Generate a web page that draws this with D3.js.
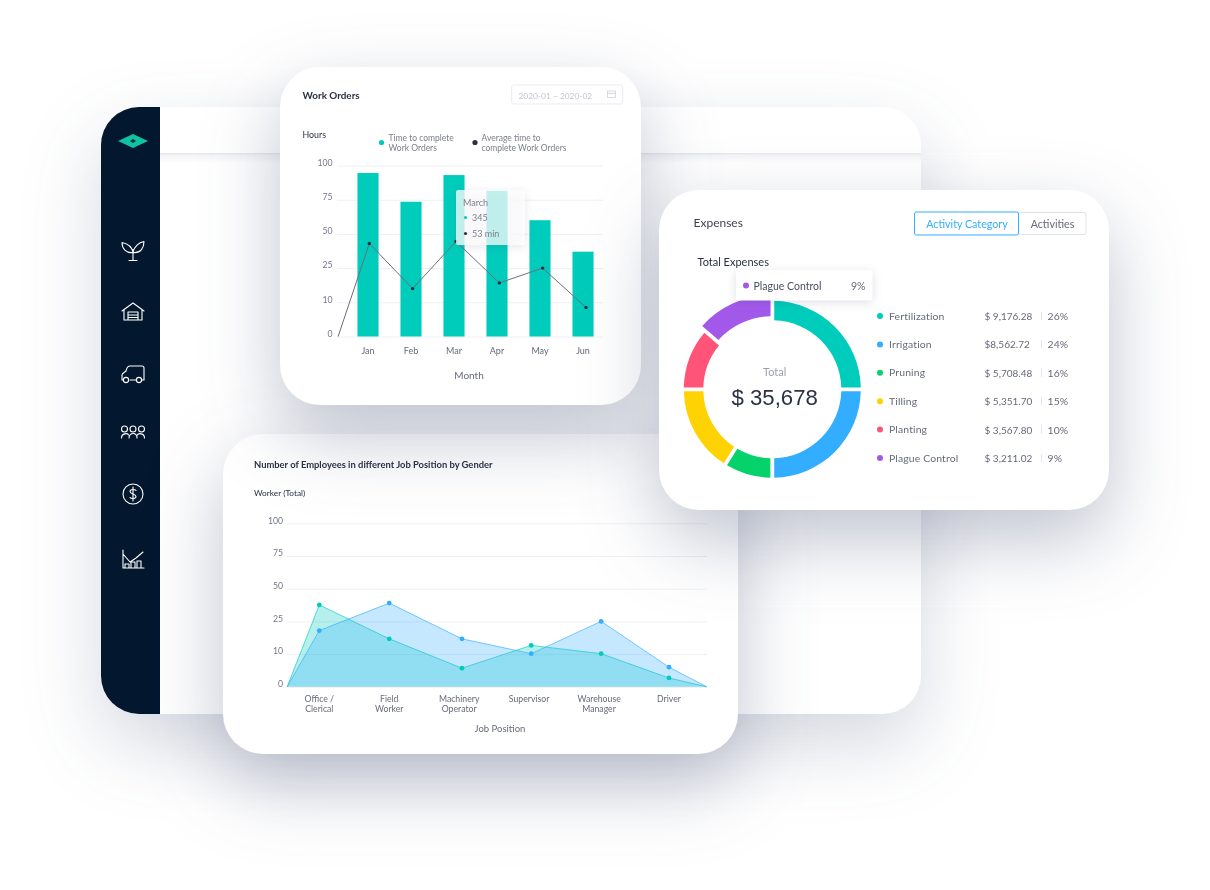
<!DOCTYPE html>
<html>
<head>
<meta charset="utf-8">
<script src="https://cdn.jsdelivr.net/npm/d3@7"></script>
<style>
  html, body { margin: 0; padding: 0; background: #fff; }
  svg { display: block; font-family: Lato, "Open Sans", sans-serif; filter: blur(0.35px); }
  .axis .domain { display: none; }
  .axis line { stroke: #eff0f3; }
  .axis text { fill: #73778a; font-size: 8.7px; font-family: Lato, sans-serif; }
</style>
</head>
<body>
<script>
// Work orders
var months = ["Jan", "Feb", "Mar", "Apr", "May", "Jun"];
var orderBars = [94.5, 73.5, 93, 81.5, 60, 37];
var avgTime = [43, 16, 44.5, 18.5, 25, 8.5];
var avgTimeStart = { pos: -0.72, value: 0 };
var yTicks = [100, 75, 50, 25, 10, 0];

// Employees
var jobs = [["Office /", "Clerical"], ["Field", "Worker"], ["Machinery", "Operator"], ["Supervisor"], ["Warehouse", "Manager"], ["Driver"]];
var jobPos = [0, 1, 2.04, 3.03, 4.03, 5];
var tealWorkers = [37.6, 17, 5.7, 14, 10.2, 2.7];
var blueWorkers = [20.8, 39, 17, 10.2, 25, 6];
var areaEnds = [-0.46, 5.54];

// Expenses
var expenseNames = ["Fertilization", "Irrigation", "Pruning", "Tilling", "Planting", "Plague Control"];
var expenseAmounts = ["$ 9,176.28", "$8,562.72", "$ 5,708.48", "$ 5,351.70", "$ 3,567.80", "$ 3,211.02"];
var expensePct = ["26%", "24%", "16%", "15%", "10%", "9%"];
// slice sizes as drawn, they don't follow the percent labels
var sliceShare = [25, 25, 8.9, 16.1, 11.4, 13.6];
var expenseColors = ["#00ccbb", "#33adff", "#05d26a", "#ffd204", "#ff5478", "#a259ea"];

var teal = "#00ccbb", blue = "#33adff", navy = "#03172f", ink = "#2b3044", grey = "#666a79";

var svg = d3.select("body").append("svg")
  .attr("width", 1210)
  .attr("height", 890);

var defs = svg.append("defs");

function addShadow(id, dy, blur, opacity) {
  var f = defs.append("filter")
    .attr("id", id)
    .attr("filterUnits", "userSpaceOnUse")
    .attr("x", -200).attr("y", -200).attr("width", 1700).attr("height", 1400)
    .attr("color-interpolation-filters", "sRGB");
  f.append("feDropShadow")
    .attr("dx", 0).attr("dy", dy)
    .attr("stdDeviation", blur)
    .attr("flood-color", "#2f3a63")
    .attr("flood-opacity", opacity);
}
addShadow("shadow-main", 30, 38, 0.2);
addShadow("shadow-card", 30, 38, 0.3);
addShadow("shadow-tip", 2, 5, 0.16);

function card(x, y, w, h, r, filter) {
  return svg.append("rect")
    .attr("x", x).attr("y", y)
    .attr("width", w).attr("height", h)
    .attr("rx", r)
    .attr("fill", "#fff")
    .attr("filter", `url(#${filter})`);
}

function label(g, x, y, str, size, color, weight, anchor) {
  return g.append("text")
    .attr("x", x).attr("y", y)
    .attr("font-size", size)
    .attr("fill", color)
    .attr("font-weight", weight || 400)
    .attr("text-anchor", anchor || "start")
    .text(str);
}

// ---- app window behind the cards
card(101, 107, 820, 607, 38, "shadow-main");

defs.append("clipPath").attr("id", "main-clip")
  .append("rect")
  .attr("x", 101).attr("y", 107)
  .attr("width", 820).attr("height", 607)
  .attr("rx", 38);

var headerGrad = defs.append("linearGradient")
  .attr("id", "header-line")
  .attr("x1", 0).attr("y1", 0).attr("x2", 0).attr("y2", 1);
headerGrad.append("stop").attr("offset", 0).attr("stop-color", "#e4e6eb");
headerGrad.append("stop").attr("offset", 0.25).attr("stop-color", "#f3f4f6");
headerGrad.append("stop").attr("offset", 1).attr("stop-color", "#fff");

var mainG = svg.append("g").attr("clip-path", "url(#main-clip)");
mainG.append("rect")
  .attr("x", 160).attr("y", 153)
  .attr("width", 770).attr("height", 10)
  .attr("fill", "url(#header-line)");
mainG.append("rect")
  .attr("x", 101).attr("y", 107)
  .attr("width", 59).attr("height", 607)
  .attr("fill", navy);

// sidebar icons
var logo = svg.append("g").attr("transform", "translate(133,141)");
logo.append("path").attr("d", "M-15,0L0,-7L15,0L0,7Z").attr("fill", "#10c2a4");
logo.append("path").attr("d", "M-3,0L0,-2L3,0L0,2Z").attr("fill", "#03372f");

var iconPaths = [
  { y: 250.5, d: "M0,10V-1M-4,10H4M0,2C-1,-4 -6,-7 -11,-8C-11,-2 -7,3 0,2ZM0,2C1,-4 6,-8 11,-9C11,-3 8,3 0,2Z" },
  { y: 312, d: "M-11,-1L0,-9L11,-1M-9,-2V8H9V-2M-5,8V0H5V8M-5,3H5M-5,5.5H5" },
  { y: 374, d: "M-9,6H-11V1C-11,-1 -8,-2 -7,-3C-6,-6 -6,-8 -3,-8H9Q11,-8 11,-6V6H9M-3,6H3" },
  { y: 433, d: "M-11.5,5C-11.5,0 -5,0 -4.5,2M-4,5C-4,-1 4,-1 4,5M11.5,5C11.5,0 5,0 4.5,2" },
  { y: 494, d: "M3,-3.5C2,-5 -3,-5 -3,-2.5C-3,0 3,0 3,2.5C3,5 -2,5 -3,3.5M0,-7V7" },
  { y: 559, d: "M-10,-9V9H11M-10,-5L-3,3L3,-1L10,-7M-8,9V5H-4V9M-2,9V3H2V9M4,9V2H8V9" }
];
var icons = svg.append("g")
  .attr("fill", "none").attr("stroke", "#fff")
  .attr("stroke-width", 1.1).attr("stroke-linejoin", "round").attr("stroke-linecap", "round");
icons.selectAll("g")
  .data(iconPaths)
  .join("g")
  .attr("transform", d => `translate(133,${d.y})`)
  .append("path")
  .attr("d", d => d.d);
icons.append("circle").attr("cx", 126).attr("cy", 380).attr("r", 2.6).attr("fill", navy);
icons.append("circle").attr("cx", 139).attr("cy", 380).attr("r", 2.6).attr("fill", navy);
icons.append("circle").attr("cx", 133).attr("cy", 494).attr("r", 10);
[124.5, 133, 141.5].forEach(x => icons.append("circle").attr("cx", x).attr("cy", 429).attr("r", 3));

// ---- employees card
card(223, 434, 515, 320, 40, "shadow-card");
var empG = svg.append("g");
label(empG, 254, 468, "Number of Employees in different Job Position by Gender", 9.4, ink, 700);
label(empG, 254, 496, "Worker (Total)", 8.3, ink);

var yArea = d3.scaleLinear()
  .domain(yTicks)
  .range(yTicks.map((d, i) => 523.3 + i * 32.7));
var xArea = d3.scaleLinear().domain([0, 5]).range([319.3, 669]);
var jobX = d3.scalePoint().domain(d3.range(jobs.length)).range([319.3, 669]);

empG.append("g")
  .attr("class", "axis")
  .attr("transform", "translate(287,0)")
  .call(d3.axisLeft(yArea).tickValues(yTicks).tickSize(-420).tickPadding(4))
  .selectAll("text").attr("y", -3);

function areaPoints(values) {
  return [[areaEnds[0], 0]].concat(values.map((v, i) => [jobPos[i], v]), [[areaEnds[1], 0]]);
}
var workerArea = d3.area()
  .x(d => xArea(d[0]))
  .y0(yArea(0))
  .y1(d => yArea(d[1]));

[[tealWorkers, teal], [blueWorkers, blue]].forEach(function(s) {
  empG.append("path")
    .attr("d", workerArea(areaPoints(s[0])))
    .attr("fill", s[1])
    .attr("fill-opacity", 0.285);
  empG.append("path")
    .attr("d", d3.line().x(d => xArea(d[0])).y(d => yArea(d[1]))(areaPoints(s[0])))
    .attr("fill", "none")
    .attr("stroke", s[1])
    .attr("stroke-opacity", 0.65)
    .attr("stroke-width", 1);
});
[[tealWorkers, teal], [blueWorkers, blue]].forEach(function(s) {
  empG.append("g").selectAll("circle")
    .data(s[0])
    .join("circle")
    .attr("cx", (d, i) => xArea(jobPos[i]))
    .attr("cy", d => yArea(d))
    .attr("r", 2.4)
    .attr("fill", s[1]);
});

jobs.forEach(function(lines, i) {
  lines.forEach(function(line, j) {
    label(empG, jobX(i), 702 + j * 10, line, 8.7, grey, 400, "middle");
  });
});
label(empG, 500, 731.5, "Job Position", 9.5, grey, 400, "middle");

// ---- work orders card
card(280, 67, 361, 338, 40, "shadow-card");
var woG = svg.append("g");
label(woG, 302.5, 98.5, "Work Orders", 9.9, ink, 700);

woG.append("rect")
  .attr("x", 511.7).attr("y", 85)
  .attr("width", 111).attr("height", 19)
  .attr("rx", 2)
  .attr("fill", "#fff").attr("stroke", "#e9ebf0");
label(woG, 518.5, 98.5, "2020-01 ~ 2020-02", 8.4, "#c2c5cf");
woG.append("rect")
  .attr("x", 607.5).attr("y", 91)
  .attr("width", 8).attr("height", 6.5)
  .attr("fill", "none").attr("stroke", "#d0d3db").attr("stroke-width", 0.8);
woG.append("line")
  .attr("x1", 607.5).attr("x2", 615.5).attr("y1", 93.3).attr("y2", 93.3)
  .attr("stroke", "#d0d3db").attr("stroke-width", 1);

label(woG, 302.5, 137.5, "Hours", 8.8, ink);

woG.append("circle").attr("cx", 381.5).attr("cy", 142.5).attr("r", 2.6).attr("fill", teal);
label(woG, 388.5, 141, "Time to complete", 8.5, "#7b7f8d");
label(woG, 388.5, 151, "Work Orders", 8.5, "#7b7f8d");
woG.append("circle").attr("cx", 475).attr("cy", 142.5).attr("r", 2.6).attr("fill", ink);
label(woG, 481.5, 141, "Average time to", 8.5, "#7b7f8d");
label(woG, 481.5, 151, "complete Work Orders", 8.5, "#7b7f8d");

var yBars = d3.scaleLinear()
  .domain(yTicks)
  .range(yTicks.map((d, i) => 165.5 + i * 34.2));
var xBars = d3.scaleBand()
  .domain(months)
  .range([346.5, 604.5])
  .paddingInner(0.51)
  .paddingOuter(0.255);
var xAvg = d3.scaleLinear().domain([0, 5]).range([369.3, 586]);

woG.append("g")
  .attr("class", "axis")
  .attr("transform", "translate(337,0)")
  .call(d3.axisLeft(yBars).tickValues(yTicks).tickSize(-266).tickPadding(4.5))
  .selectAll("text").attr("y", -3);

woG.append("g").selectAll("rect")
  .data(orderBars)
  .join("rect")
  .attr("x", (d, i) => xBars(months[i]))
  .attr("y", d => yBars(d))
  .attr("width", xBars.bandwidth())
  .attr("height", d => yBars(0) - yBars(d))
  .attr("fill", teal);

var avgPoints = [[avgTimeStart.pos, avgTimeStart.value]].concat(avgTime.map((v, i) => [i, v]));
woG.append("path")
  .attr("d", d3.line().x(d => xAvg(d[0])).y(d => yBars(d[1]))(avgPoints))
  .attr("fill", "none")
  .attr("stroke", "#6c6f7d")
  .attr("stroke-width", 1);
woG.append("g").selectAll("circle")
  .data(avgTime)
  .join("circle")
  .attr("cx", (d, i) => xAvg(i))
  .attr("cy", d => yBars(d))
  .attr("r", 1.7)
  .attr("fill", ink);

woG.append("g").selectAll("text")
  .data(months)
  .join("text")
  .attr("x", d => xBars(d) + xBars.bandwidth() / 2)
  .attr("y", 353.5)
  .attr("text-anchor", "middle")
  .attr("font-size", 9)
  .attr("fill", grey)
  .text(d => d);
label(woG, 469, 379, "Month", 10, grey, 400, "middle");

// tooltip over Mar/Apr
woG.append("rect")
  .attr("x", 456).attr("y", 190)
  .attr("width", 69).attr("height", 55)
  .attr("rx", 2)
  .attr("fill", "#fff").attr("fill-opacity", 0.75)
  .attr("filter", "url(#shadow-tip)");
label(woG, 463, 205.5, "March", 9, "#7b7f8d");
woG.append("circle").attr("cx", 465.5).attr("cy", 217.5).attr("r", 1.6).attr("fill", teal);
label(woG, 472, 221, "345", 9, "#7b7f8d");
woG.append("circle").attr("cx", 465.5).attr("cy", 233.5).attr("r", 1.6).attr("fill", ink);
label(woG, 472, 237, "53 min", 9, "#7b7f8d");

// ---- expenses card
card(659, 190, 450, 320, 40, "shadow-card");
var exG = svg.append("g");
label(exG, 693.5, 227, "Expenses", 12, "#3f4356");

exG.append("rect")
  .attr("x", 1018.5).attr("y", 212.5)
  .attr("width", 67.5).attr("height", 22)
  .attr("rx", 2)
  .attr("fill", "#fff").attr("stroke", "#dfe2e8");
exG.append("rect")
  .attr("x", 914.5).attr("y", 212)
  .attr("width", 104).attr("height", 23)
  .attr("rx", 2)
  .attr("fill", "#fff").attr("stroke", blue);
label(exG, 967, 227.5, "Activity Category", 10.7, blue, 400, "middle");
label(exG, 1052.5, 227.5, "Activities", 10.7, grey, 400, "middle");

label(exG, 697.5, 265.5, "Total Expenses", 11, ink, 400);

var pie = d3.pie().sort(null).value(d => d);
var ring = d3.arc()
  .innerRadius(69).outerRadius(88.5)
  .padAngle(0.048).padRadius(80);
var ringHover = d3.arc()
  .innerRadius(73).outerRadius(94.5)
  .padAngle(0.044).padRadius(80);

exG.append("g")
  .attr("transform", "translate(772.3,389.3)")
  .selectAll("path")
  .data(pie(sliceShare))
  .join("path")
  .attr("d", (d, i) => i === sliceShare.length - 1 ? ringHover(d) : ring(d))
  .attr("fill", (d, i) => expenseColors[i]);

label(exG, 774.7, 376, "Total", 11, "#9a9eab", 400, "middle");
label(exG, 774.7, 405, "$ 35,678", 22.2, ink, 400, "middle")
  .attr("font-family", "'Liberation Sans', Arial, sans-serif");

var rowY = d3.scalePoint().domain(expenseNames).range([316, 458]);
var rows = exG.append("g").selectAll("g")
  .data(expenseNames)
  .join("g")
  .attr("transform", d => `translate(0,${rowY(d)})`);
rows.append("circle")
  .attr("cx", 880).attr("cy", 0).attr("r", 3)
  .attr("fill", (d, i) => expenseColors[i]);
rows.append("text")
  .attr("x", 889).attr("y", 3.6)
  .attr("font-size", 10.4).attr("fill", grey).attr("letter-spacing", 0.15)
  .text(d => d);
rows.append("text")
  .attr("x", 984.5).attr("y", 4)
  .attr("font-size", 10).attr("fill", grey)
  .text((d, i) => expenseAmounts[i]);
rows.append("line")
  .attr("x1", 1041.5).attr("x2", 1041.5).attr("y1", -4).attr("y2", 4)
  .attr("stroke", "#e3e5ea");
rows.append("text")
  .attr("x", 1047.5).attr("y", 4)
  .attr("font-size", 10.4).attr("fill", grey).attr("letter-spacing", 0.15)
  .text((d, i) => expensePct[i]);

// tooltip for the raised slice
exG.append("rect")
  .attr("x", 736).attr("y", 270)
  .attr("width", 136.5).attr("height", 30.5)
  .attr("rx", 2)
  .attr("fill", "#fff")
  .attr("filter", "url(#shadow-tip)");
exG.append("circle").attr("cx", 746).attr("cy", 285.5).attr("r", 3).attr("fill", expenseColors[5]);
label(exG, 753.5, 289.5, expenseNames[5], 10.5, "#4a4e60");
label(exG, 865.5, 289.5, expensePct[5], 10.5, grey, 400, "end");
</script>
</body>
</html>
